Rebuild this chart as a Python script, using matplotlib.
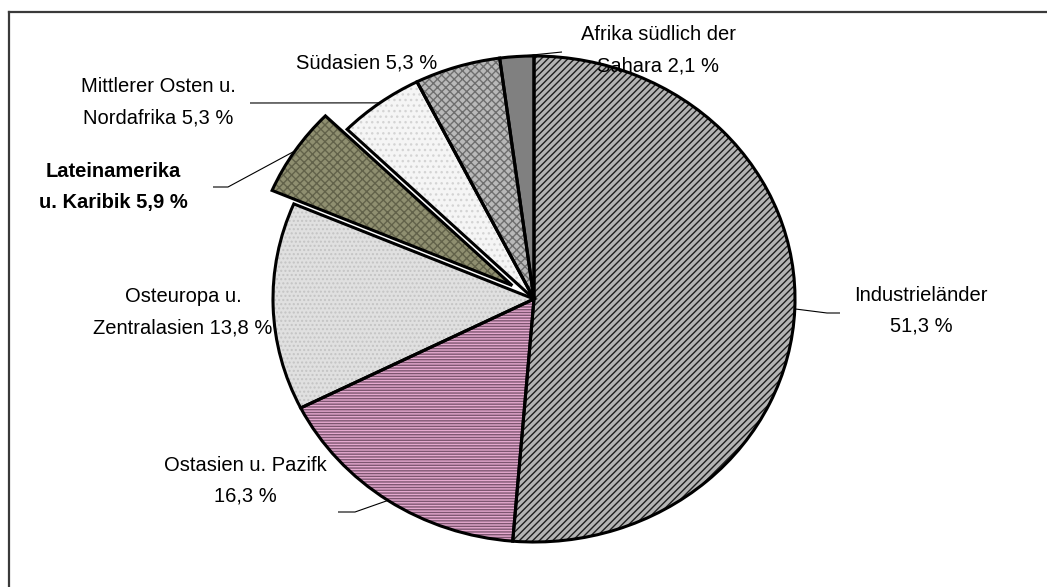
import numpy as np
import matplotlib
matplotlib.use("Agg")
import matplotlib.pyplot as plt
from matplotlib.lines import Line2D

# ---- data ----
categories = ["Industrieländer", "Ostasien u. Pazifk", "Osteuropa u.\nZentralasien",
              "Lateinamerika\nu. Karibik", "Mittlerer Osten u.\nNordafrika",
              "Südasien", "Afrika südlich der\nSahara"]
values = [51.3, 16.3, 13.8, 5.9, 5.3, 5.3, 2.1]
label_texts = ["Industrieländer\n51,3 %", "Ostasien u. Pazifk\n16,3 %",
               "Osteuropa u.\nZentralasien 13,8 %", "Lateinamerika\nu. Karibik 5,9 %",
               "Mittlerer Osten u.\nNordafrika 5,3 %", "Südasien 5,3 %",
               "Afrika südlich der\nSahara 2,1 %"]
explode = [0, 0, 0, 0.1, 0, 0, 0]

# styles
face_colors = ["#b4b4b4", "#e6aad0", "#e0e0e0", "#8f8f70", "#f5f5f5", "#b8b8b8", "#808080"]
hatch_colors = ["#1e1e1e", "#7d5570", "#c4c4c4", "#62624a", "#d4d4d4", "#6e6e6e", "#808080"]
hatches = ["/////", "------", "....", "xxxx", "...", "xxxx", None]

# pixel geometry of the pie
W, H = 1047, 587
CX, CY, RX, RY = 534, 299, 261, 243

def P(px, py):
    return ((px - CX) / RX, (CY - py) / RY)

plt.rcParams['font.family'] = ['Liberation Sans', 'DejaVu Sans']
plt.rcParams['hatch.linewidth'] = 1.0

fig = plt.figure(figsize=(W / 100, H / 100), dpi=100)
ax = fig.add_axes([0, 0, 1, 1])

# hatched fill layer
wedges, _ = ax.pie(values, explode=explode, startangle=90, counterclock=False,
                   radius=1, center=(0, 0),
                   wedgeprops=dict(linewidth=0))
for w, fc, hc, h in zip(wedges, face_colors, hatch_colors, hatches):
    w.set_facecolor(fc)
    w.set_edgecolor(hc)
    w.set_linewidth(0)
    if h:
        w.set_hatch(h)

# outline layer
wedges2, _ = ax.pie(values, explode=explode, startangle=90, counterclock=False,
                    radius=1, center=(0, 0),
                    wedgeprops=dict(facecolor='none', edgecolor='black', linewidth=2.2))

ax.set_aspect('auto')
ax.set_xlim(P(0, 0)[0], P(W, 0)[0])
ax.set_ylim(P(0, H)[1], P(0, 0)[1])
ax.axis('off')

# label positions (pixel centres) and leader line elbows
label_pos = [(921, 311), (245, 481), (183, 312), (113, 187), (158, 102), (367, 63), (658, 50)]
bold = [False, False, False, True, False, False, False]
leaders = [[(827, 313), (840, 313)],
           [(355, 512), (338, 512)],
           None,
           [(228, 187), (213, 187)],
           [(250, 103)],
           None,
           [(562, 52)]]

total = sum(values)
cum = np.cumsum([0] + values)
for i, txt in enumerate(label_texts):
    x, y = P(*label_pos[i])
    ax.text(x, y, txt, ha='center', va='center', fontsize=14.5,
            fontweight='bold' if bold[i] else 'normal',
            linespacing=1.8, color='black')
    if leaders[i]:
        mid = (cum[i] + values[i] / 2) / total * 360.0
        ang = np.deg2rad(90 - mid)
        ex, ey = explode[i] * np.cos(ang), explode[i] * np.sin(ang)
        xs = [ex + np.cos(ang)] + [P(*p)[0] for p in leaders[i]]
        ys = [ey + np.sin(ang)] + [P(*p)[1] for p in leaders[i]]
        ax.plot(xs, ys, color='black', linewidth=0.8, solid_capstyle='butt')

# chart frame (top and left edges visible; extends past the image)
fig.add_artist(Line2D([9 / W, 1.01], [1 - 12 / H, 1 - 12 / H], transform=fig.transFigure,
                      color='#3a3a3a', linewidth=1.6))
fig.add_artist(Line2D([9 / W, 9 / W], [1 - 12 / H, -0.01], transform=fig.transFigure,
                      color='#3a3a3a', linewidth=1.6))

fig.savefig("out.png", dpi=100)
